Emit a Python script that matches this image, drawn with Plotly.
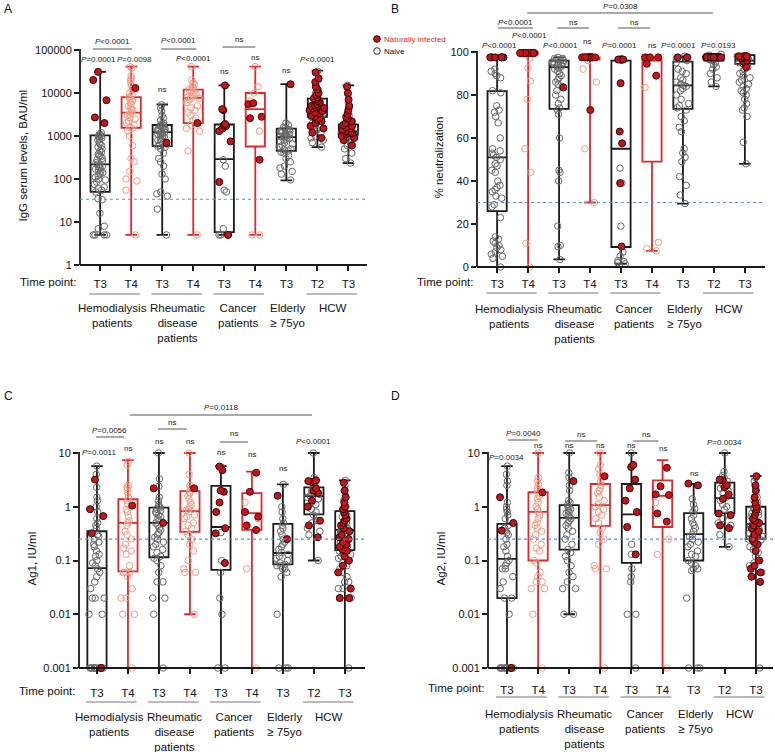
import math
import plotly.graph_objects as go

W, H = 775, 752

# ---- shared categories ----
groups = ["T3", "T4", "T3", "T4", "T3", "T4", "T3", "T2", "T3"]
group_red = [False, True, False, True, False, True, False, False, False]
cohorts = ["Hemodialysis<br>patients", "Rheumatic<br>disease<br>patients",
           "Cancer<br>patients", "Elderly<br>≥ 75yo", "HCW"]
cohort_pos = [0.4, 2.5, 4.45, 6.05, 7.5]
cohort_lines = [(0, 1), (2, 3), (4, 5), (7, 8)]

# ---- A: IgG serum levels (BAU/ml) ----
A_min = [5, 5, 5, 5, 5, 5, 93, 550, 235]
A_q1 = [50, 1550, 580, 2000, 5.8, 570, 450, 2800, 1080]
A_med = [220, 3500, 1230, 7700, 290, 4200, 940, 4600, 1250]
A_q3 = [1030, 8000, 1800, 12000, 1850, 10000, 1480, 7400, 1860]
A_max = [31000, 41000, 5400, 41000, 15000, 41000, 16000, 33000, 15000]
A_naive = [
    [1200, 1100, 1050, 1000, 980, 950, 900, 850, 800, 700, 650, 600, 550, 500, 450, 420, 380,
     350, 330, 300, 280, 260, 240, 220, 210, 200, 190, 180, 170, 160, 150, 140, 130, 120, 110,
     100, 95, 85, 75, 65, 60, 55, 50, 35, 33, 16, 8, 7, 5, 5, 5, 5],
    [41000, 38000, 25000, 22000, 20000, 17000, 15000, 12000, 10000, 9000, 8000, 7500, 7000,
     6500, 6000, 5500, 5000, 4500, 4200, 4000, 3500, 3200, 3000, 2700, 2500, 2200, 2000, 1800,
     1600, 1500, 1300, 1000, 600, 300, 250, 150, 100, 90, 55, 5],
    [5300, 4500, 3800, 3000, 2600, 2300, 2000, 1900, 1800, 1750, 1700, 1600, 1500, 1450, 1400,
     1350, 1300, 1250, 1230, 1200, 1150, 1100, 1050, 1000, 950, 900, 850, 800, 750, 650, 600,
     580, 550, 500, 400, 300, 250, 200, 130, 100, 50, 45, 40, 20, 5],
    [41000, 20000, 17000, 16000, 14000, 13000, 12000, 11000, 10000, 9500, 9000, 8500, 8000,
     7700, 7500, 7000, 6000, 5000, 4500, 4000, 3500, 3000, 2600, 2300, 2000, 1800, 1500, 1300,
     450, 5],
    [280, 200, 55, 50, 7, 5, 5, 5, 5],
    [41000, 14000, 10000, 6500, 1300, 5, 5],
    [2000, 1800, 1600, 1500, 1450, 1400, 1350, 1300, 1250, 1200, 1150, 1100, 1050, 1000, 980,
     950, 920, 900, 850, 800, 750, 700, 650, 600, 550, 500, 480, 450, 420, 400, 350, 300, 250,
     200, 180, 150, 130, 95],
    [32000, 20000, 15000, 12000, 10000, 9000, 8000, 7000, 6500, 6000, 5500, 5000, 4800, 4500,
     4200, 4000, 3800, 3500, 3200, 3000, 2800, 2600, 2400, 2200, 2000, 1800, 1600, 1400, 1200,
     1000, 900, 800, 700, 550],
    [15000, 9000, 6000, 4500, 3500, 3000, 2600, 2300, 2100, 2000, 1900, 1850, 1800, 1750, 1700,
     1650, 1600, 1550, 1500, 1450, 1400, 1350, 1300, 1280, 1250, 1220, 1200, 1180, 1150, 1120,
     1100, 1080, 1050, 1000, 950, 900, 850, 800, 700, 600, 500, 400, 300, 235],
]
A_infected = [
    [31000, 20000, 6800, 2700, 2000],
    [13000],
    [700],
    [2000],
    [15000, 4200, 4000, 1900, 1800, 1700, 1500, 1300, 750, 85, 5],
    [5800, 5500, 2800, 2600, 280],
    [16000],
    [30000, 22000, 18000, 14000, 12000, 10000, 9000, 8000, 7500, 7000, 6500, 6000, 5500, 5200,
     5000, 4700, 4500, 4300, 4000, 3800, 3500, 3300, 3000, 2800, 2600, 2400, 2200, 2000, 1700,
     1500, 1200, 900],
    [14000, 10000, 7000, 5000, 4000, 3200, 2800, 2500, 2200, 2000, 1800, 1700, 1600, 1500, 1400,
     1300, 1250, 1200, 1150, 1100, 1000, 900, 800, 600],
]
A_sig = ["<i>P</i>=0.0001", "<i>P</i>=0.0098", "ns", "<i>P</i>&lt;0.0001", "ns", "ns", "ns",
         "<i>P</i>&lt;0.0001", ""]
A_pairs = [(0, 1, "<i>P</i>&lt;0.0001"), (2, 3, "<i>P</i>&lt;0.0001"), (4, 5, "ns")]

# ---- B: % neutralization ----
B_min = [0, 0, 3.5, 30, 1.5, 7.5, 29.5, 84, 48]
B_q1 = [26, 99, 73.5, 96.5, 9.3, 49, 73.5, 96, 94.5]
B_med = [51, 99.5, 93, 97, 55, 96, 84.5, 97.5, 96]
B_q3 = [81.8, 99.8, 96, 97.5, 96, 96.5, 95.5, 98.5, 98.5]
B_max = [97.5, 100, 97.5, 98, 96.7, 97.5, 98, 99, 98.5]
B_naive = [
    [92, 91, 90, 89, 88, 82, 81, 75, 73, 72, 70, 67, 60, 55, 54, 53, 52, 51, 50, 48, 47, 45, 44,
     40, 38, 37, 36, 35, 33, 32, 29, 28, 23, 14, 13, 12, 11, 10, 9, 8, 7, 6, 5, 4, 0],
    [99.5, 99.5, 99, 97, 92.5, 86.5, 78, 55, 44, 11, 0],
    [97.5, 97, 97, 96.5, 96, 96, 95.5, 95, 95, 94.5, 94, 93.5, 93, 92.5, 92, 91, 90, 89, 88, 87,
     86, 85, 84, 82, 80, 78, 76, 74, 73, 71, 60, 45, 44, 40, 19, 10, 9.5, 3.5],
    [96, 92, 86, 55, 30],
    [46, 39, 19, 7, 5, 3, 2.5, 2, 1.5],
    [83.5, 11.5, 8.5, 7.5],
    [98, 97.5, 97, 96, 95, 92, 91, 90, 88, 87, 86, 85, 84.5, 84, 83, 82, 80, 78, 76, 75, 74, 73,
     70, 68, 65, 63, 55, 53, 51, 49, 42, 38, 33.5, 29.5],
    [99, 98.5, 98, 98, 97.5, 97, 96.5, 96, 95, 94, 93, 92, 90, 88, 86, 84],
    [98, 97.5, 97, 96.5, 96, 95.5, 95, 94.5, 94, 93, 92, 91, 90, 89, 88, 87, 86, 85, 84, 83, 82,
     81, 80, 78, 76, 74, 73, 70, 58, 48],
]
B_infected = [
    [97.5, 97.5, 97.5, 97.5, 97.5, 97.5],
    [99.5] * 14,
    [83.5],
    [97.5] * 14 + [73],
    [96.5, 96.5, 96.5, 96.5, 96.5, 96.5, 85.5, 63, 57.5, 39, 9.5],
    [97.5, 97.5, 97.5, 94.5, 89],
    [97.5, 97.5],
    [97.5] * 20,
    [98, 98, 98, 98, 98, 97.5, 97.5, 97, 96, 95.5, 93],
]
B_sig = ["<i>P</i>&lt;0.0001", "<i>P</i>&lt;0.0001", "<i>P</i>&lt;0.0001", "ns",
         "<i>P</i>=0.0001", "ns", "<i>P</i>=0.0001", "<i>P</i>=0.0193", ""]
B_pairs = [(0, 1, "<i>P</i>&lt;0.0001"), (2, 3, "ns"), (4, 5, "ns"), (1, 7, "<i>P</i>=0.0308")]

# ---- C: Ag1 (IU/ml) ----
C_min = [0.001, 0.001, 0.001, 0.01, 0.001, 0.001, 0.001, 0.1, 0.001]
C_q1 = [0.001, 0.063, 0.115, 0.34, 0.067, 0.37, 0.085, 0.72, 0.156]
C_med = [0.072, 0.5, 0.5, 0.83, 0.42, 0.76, 0.138, 1.58, 0.37]
C_q3 = [0.35, 1.38, 0.96, 1.95, 2.45, 1.8, 0.48, 2.3, 0.83]
C_max = [5.7, 7.4, 10, 10, 5.7, 4.5, 2.6, 10, 3.1]
C_naive = [
    [5.7, 4, 2.3, 1.5, 1.3, 1.0, 0.8, 0.6, 0.5, 0.45, 0.4, 0.3, 0.28, 0.25, 0.22, 0.2, 0.18,
     0.15, 0.13, 0.12, 0.1, 0.09, 0.08, 0.07, 0.06, 0.05, 0.04, 0.03, 0.02, 0.02, 0.02, 0.01,
     0.01] + [0.001] * 12,
    [7, 6, 2.5, 2.3, 2.1, 1.8, 1.5, 1.3, 1.1, 0.9, 0.8, 0.65, 0.55, 0.5, 0.45, 0.35, 0.3, 0.25,
     0.2, 0.17, 0.15, 0.13, 0.08, 0.06, 0.06, 0.06, 0.05, 0.03, 0.02, 0.02, 0.01, 0.01, 0.001],
    [10, 3.3, 2.4, 1.5, 1.3, 1.1, 1.0, 0.95, 0.9, 0.85, 0.8, 0.75, 0.7, 0.65, 0.6, 0.55, 0.5,
     0.45, 0.4, 0.37, 0.33, 0.3, 0.27, 0.25, 0.22, 0.2, 0.18, 0.16, 0.14, 0.12, 0.11, 0.1, 0.08,
     0.06, 0.04, 0.04, 0.02, 0.02, 0.01, 0.001],
    [10, 4, 2.5, 2.2, 1.9, 1.8, 1.6, 1.4, 1.2, 1.1, 1.0, 0.9, 0.85, 0.8, 0.7, 0.65, 0.6, 0.5,
     0.45, 0.4, 0.35, 0.3, 0.25, 0.2, 0.15, 0.1, 0.07, 0.06, 0.06, 0.01],
    [5.5, 0.33, 0.1, 0.06, 0.02, 0.01, 0.001, 0.001],
    [1.2, 0.6, 0.07, 0.001],
    [2.6, 1.0, 0.8, 0.6, 0.5, 0.45, 0.4, 0.35, 0.3, 0.25, 0.22, 0.2, 0.18, 0.16, 0.14, 0.13,
     0.12, 0.11, 0.1, 0.09, 0.085, 0.08, 0.08, 0.07, 0.07, 0.06, 0.05, 0.01, 0.001, 0.001, 0.001],
    [10, 3.5, 2.8, 2.5, 2.2, 2.0, 1.9, 1.7, 1.6, 1.5, 1.4, 1.2, 1.1, 1.0, 0.9, 0.8, 0.7, 0.55,
     0.5, 0.4, 0.35, 0.3, 0.1],
    [3.1, 2.5, 2, 1.6, 1.3, 1.1, 1.0, 0.9, 0.85, 0.8, 0.75, 0.7, 0.65, 0.6, 0.55, 0.5, 0.48,
     0.45, 0.42, 0.4, 0.38, 0.36, 0.34, 0.32, 0.3, 0.28, 0.26, 0.24, 0.22, 0.2, 0.19, 0.18, 0.17,
     0.16, 0.15, 0.14, 0.13, 0.12, 0.11, 0.1, 0.09, 0.08, 0.07, 0.06, 0.05, 0.04, 0.04, 0.03,
     0.03, 0.02, 0.02, 0.001],
]
C_infected = [
    [3.2, 0.9, 0.67, 0.32, 0.001],
    [1.05],
    [2.2, 0.5],
    [2.2],
    [5.6, 4.8, 2.0, 1.9, 1.2, 0.8, 0.4, 0.32, 0.09],
    [4.3, 1.9, 0.8, 0.65, 0.45, 0.37],
    [1.6, 0.25],
    [3.1, 3.0, 2.9, 2.2, 2.0, 1.8, 1.3, 1.0, 0.55, 0.45, 0.27],
    [2.8, 2.0, 1.5, 1.2, 1.0, 0.9, 0.8, 0.7, 0.6, 0.55, 0.5, 0.45, 0.4, 0.35, 0.3, 0.27, 0.25,
     0.22, 0.2, 0.18, 0.16, 0.15, 0.12, 0.1, 0.08, 0.06, 0.03, 0.02, 0.02],
]
C_sig = ["<i>P</i>=0.0011", "ns", "ns", "ns", "ns", "ns", "ns", "<i>P</i>&lt;0.0001", ""]
C_pairs = [(0, 1, "<i>P</i>=0.0056"), (2, 3, "ns"), (4, 5, "ns"), (1, 7, "<i>P</i>=0.0118")]

# ---- D: Ag2 (IU/ml) ----
D_min = [0.001, 0.001, 0.01, 0.001, 0.001, 0.001, 0.001, 0.18, 0.001]
D_q1 = [0.02, 0.1, 0.16, 0.44, 0.09, 0.42, 0.1, 0.76, 0.25]
D_med = [0.107, 0.8, 0.62, 1.07, 0.72, 1.6, 0.31, 1.45, 0.48]
D_q3 = [0.48, 1.86, 1.07, 2.65, 2.65, 3.1, 0.76, 2.8, 1.0]
D_max = [5.7, 10, 10, 10, 10, 7.4, 2.65, 10, 3.7]
D_naive = [
    [5.7, 4, 3, 2.5, 1.2, 1.0, 0.9, 0.8, 0.7, 0.6, 0.45, 0.4, 0.35, 0.33, 0.3, 0.25, 0.2, 0.18,
     0.15, 0.12, 0.1, 0.09, 0.08, 0.07, 0.07, 0.05, 0.04, 0.03, 0.02, 0.02, 0.01] + [0.001] * 10,
    [10, 3.5, 3, 2.6, 2.2, 2.0, 1.8, 1.6, 1.4, 1.2, 1.0, 0.9, 0.8, 0.7, 0.6, 0.5, 0.45, 0.4,
     0.35, 0.3, 0.25, 0.2, 0.17, 0.15, 0.1, 0.09, 0.06, 0.05, 0.04, 0.04, 0.03, 0.03, 0.01, 0.001],
    [10, 4.3, 3.5, 2.5, 2.0, 1.3, 1.2, 1.1, 1.0, 0.95, 0.9, 0.85, 0.8, 0.75, 0.7, 0.65, 0.6,
     0.55, 0.5, 0.45, 0.4, 0.35, 0.3, 0.25, 0.2, 0.16, 0.14, 0.12, 0.1, 0.08, 0.06, 0.05, 0.04,
     0.03, 0.03, 0.01, 0.01],
    [10, 6, 5, 4, 3, 2.5, 2.2, 2.0, 1.8, 1.5, 1.3, 1.1, 1.0, 0.9, 0.8, 0.7, 0.6, 0.5, 0.4, 0.33,
     0.25, 0.2, 0.08, 0.07, 0.07, 0.001],
    [10, 0.2, 0.13, 0.07, 0.05, 0.04, 0.01, 0.01, 0.001],
    [1.2, 0.25, 0.13, 0.001],
    [1.4, 1.1, 0.9, 0.8, 0.7, 0.6, 0.5, 0.45, 0.4, 0.35, 0.3, 0.28, 0.25, 0.22, 0.2, 0.18, 0.15,
     0.13, 0.12, 0.1, 0.09, 0.08, 0.07, 0.07, 0.065, 0.02, 0.001, 0.001, 0.001],
    [10, 4.5, 3.8, 3.5, 3.0, 2.6, 2.2, 2.0, 1.8, 1.5, 1.3, 1.1, 1.0, 0.9, 0.7, 0.6, 0.5, 0.45,
     0.3, 0.18],
    [3.5, 3, 2.5, 2, 1.5, 1.3, 1.2, 1.1, 1.0, 0.95, 0.9, 0.85, 0.8, 0.75, 0.7, 0.65, 0.6, 0.55,
     0.5, 0.48, 0.46, 0.44, 0.42, 0.4, 0.38, 0.36, 0.34, 0.32, 0.3, 0.28, 0.26, 0.25, 0.24, 0.22,
     0.2, 0.18, 0.16, 0.14, 0.12, 0.1, 0.09, 0.08, 0.06, 0.05, 0.001],
]
D_infected = [
    [1.5, 0.5, 0.36, 0.001],
    [1.85],
    [3.0],
    [3.7],
    [6, 5.5, 3.2, 2.2, 1.3, 0.8, 0.42, 0.13],
    [5.3, 2.4, 1.7, 1.65, 0.75, 0.53],
    [2.7, 2.5],
    [3.2, 3.1, 2.5, 2.3, 1.7, 1.4, 0.75, 0.7, 0.45, 0.4],
    [3.7, 2.5, 2.0, 1.5, 1.2, 1.0, 0.9, 0.8, 0.7, 0.6, 0.55, 0.5, 0.45, 0.4, 0.35, 0.3, 0.28,
     0.25, 0.22, 0.2, 0.15, 0.1, 0.08, 0.07, 0.06, 0.05, 0.04],
]
D_sig = ["<i>P</i>=0.0034", "ns", "ns", "ns", "ns", "ns", "ns", "<i>P</i>=0.0034", ""]
D_pairs = [(0, 1, "<i>P</i>=0.0040"), (2, 3, "ns"), (4, 5, "ns")]

# ---- styling ----
FONT = "Liberation Sans, Arial, sans-serif"
BLACK = "#1a1a1a"
RED = "#e3262b"
NAIVE_K = "#686868"
NAIVE_R = "#f29a84"
INF_FILL = "#c4141c"

panels = [
    dict(name="A", ax="", left=80, right=367, top=50, bot=265, log=True, lo=0, hi=5,
         xr=(-0.65, 8.6), ticks=[1, 10, 100, 1000, 10000, 100000],
         ticktext=["1", "10", "100", "1000", "10000", "100000"], thr=33.8,
         title="IgG serum levels, BAU/ml", title_x=23,
         stats=(A_min, A_q1, A_med, A_q3, A_max), naive=A_naive, inf=A_infected,
         sig=A_sig, sig_y=[60, 60, 90, 58, 72, 57, 70, 60, 0],
         sig_dx=[-0.05, 0.1, 0, 0, 0, 0, 0, 0, 0],
         pairs=A_pairs, pair_geo=[(-0.23, 1.03, 49, 41), (1.97, 3.1, 49, 40), (3.94, 5.0, 47, 39)],
         tp_dy=17, ul_dy=29, lab_dy=43),
    dict(name="B", ax="2", left=477, right=765, top=52, bot=267, log=False, lo=0, hi=100,
         xr=(-0.65, 8.65), ticks=[0, 20, 40, 60, 80, 100],
         ticktext=["0", "20", "40", "60", "80", "100"], thr=30,
         title="% neutralization", title_x=438,
         stats=(B_min, B_q1, B_med, B_q3, B_max), naive=B_naive, inf=B_infected,
         sig=B_sig, sig_y=[45, 35, 45, 42, 45, 45, 45, 45, 0],
         sig_dx=[0.08, 0.05, 0.05, -0.1, -0.06, 0, -0.15, 0.15, 0],
         pairs=B_pairs, pair_geo=[(0.03, 1.16, 28, 22), (1.94, 2.97, 28, 22), (3.9, 4.94, 28, 22),
                                  (0.97, 6.97, 13, 7)],
         tp_dy=15, ul_dy=26, lab_dy=42),
    dict(name="C", ax="3", left=79, right=365, top=453, bot=668, log=True, lo=-3, hi=1,
         xr=(-0.58, 8.65), ticks=[0.001, 0.01, 0.1, 1, 10],
         ticktext=["0.001", "0.01", "0.1", "1", "10"], thr=0.25,
         title="Ag1, IU/ml", title_x=31,
         stats=(C_min, C_q1, C_med, C_q3, C_max), naive=C_naive, inf=C_infected,
         sig=C_sig, sig_y=[452, 448, 441, 441, 452, 455, 468, 441, 0],
         sig_dx=[0.05, 0, 0, 0, 0, 0, 0, 0, 0],
         pairs=C_pairs, pair_geo=[(-0.03, 0.87, 437, 430), (1.97, 2.9, 429, 422),
                                  (3.97, 4.87, 442, 433), (1.06, 6.94, 415, 407)],
         tp_dy=23, ul_dy=34, lab_dy=49),
    dict(name="D", ax="4", left=488, right=773, top=453, bot=668, log=True, lo=-3, hi=1,
         xr=(-0.61, 8.55), ticks=[0.001, 0.01, 0.1, 1, 10],
         ticktext=["0.001", "0.01", "0.1", "1", "10"], thr=0.25,
         title="Ag2, IU/ml", title_x=440,
         stats=(D_min, D_q1, D_med, D_q3, D_max), naive=D_naive, inf=D_infected,
         sig=D_sig, sig_y=[457, 445, 445, 445, 445, 449, 473, 443, 0],
         sig_dx=[0, 0, 0, 0, 0, 0, 0, 0, 0],
         pairs=D_pairs, pair_geo=[(0.03, 1.0, 440, 433), (1.87, 2.9, 441, 434),
                                  (4.06, 4.87, 441, 434)],
         tp_dy=20, ul_dy=29, lab_dy=46),
]


def py(p):
    return 1 - p / H


def px(p):
    return p / W


def label(text, x, y, xref="paper", size=11.5, color="#111", **kw):
    d = dict(text=text, x=x, xref=xref, y=py(y), yref="paper", showarrow=False,
             xanchor="center", yanchor="middle", font=dict(family=FONT, size=size, color=color))
    d.update(kw)
    return d


fig = go.Figure()
shapes = []
annotations = []
layout_axes = {}
PAD = 5
BOXW = 0.62

for P in panels:
    xa, ya = "x" + P["ax"], "y" + P["ax"]
    span = P["hi"] - P["lo"]
    upp = span / (P["bot"] - P["top"])
    yrange = [P["lo"] - PAD * upp, P["hi"] + PAD * upp]

    mn, q1, med, q3, mx = P["stats"]
    for red in (False, True):
        idx = [i for i in range(9) if group_red[i] == red]
        fig.add_trace(go.Box(
            x=idx, q1=[q1[i] for i in idx], median=[med[i] for i in idx],
            q3=[q3[i] for i in idx], lowerfence=[mn[i] for i in idx],
            upperfence=[mx[i] for i in idx], width=BOXW, whiskerwidth=0.6,
            line=dict(color=RED if red else BLACK, width=1.8),
            fillcolor="rgba(0,0,0,0)", boxpoints=False, showlegend=False,
            xaxis=xa, yaxis=ya, hoverinfo="skip"))

    for i in range(9):
        red = group_red[i]
        for vals, infected in ((P["naive"][i], False), (P["inf"][i], True)):
            if not vals:
                continue
            if infected:
                mk = dict(size=7, color=INF_FILL,
                          line=dict(color="#5a0000" if red else "#2b0505", width=1))
            else:
                mk = dict(size=6.5, color="rgba(0,0,0,0)",
                          line=dict(color=NAIVE_R if red else NAIVE_K, width=1))
            fig.add_trace(go.Box(
                x=[i] * len(vals), y=vals, boxpoints="all", jitter=0.85, pointpos=0,
                width=BOXW, marker=mk, line=dict(color="rgba(0,0,0,0)", width=0),
                fillcolor="rgba(0,0,0,0)", showlegend=False, xaxis=xa, yaxis=ya,
                hoverinfo="skip"))

    layout_axes["xaxis" + P["ax"]] = dict(
        domain=[px(P["left"]), px(P["right"])], range=list(P["xr"]), anchor="free",
        position=py(P["bot"]), showline=True, linecolor=BLACK, linewidth=1.8,
        ticks="outside", ticklen=5, tickwidth=1.5, tickcolor=BLACK, automargin=False,
        tickvals=list(range(9)), ticktext=groups, showgrid=False, zeroline=False,
        tickfont=dict(family=FONT, size=11.5, color="#111"), fixedrange=True,
        ticklabelstandoff=P["tp_dy"] - 14)
    layout_axes["yaxis" + P["ax"]] = dict(
        domain=[py(P["bot"] + PAD), py(P["top"] - PAD)], anchor=xa, automargin=False,
        type="log" if P["log"] else "linear", range=yrange, showline=False,
        ticks="outside", ticklen=5, tickwidth=1.5, tickcolor=BLACK, fixedrange=True,
        tickvals=P["ticks"], ticktext=P["ticktext"], showgrid=False, zeroline=False,
        tickfont=dict(family=FONT, size=11, color="#111"))

    # y axis line, drawn only over the value range
    shapes.append(dict(type="line", xref="paper", yref="paper", x0=px(P["left"]),
                       x1=px(P["left"]), y0=py(P["bot"]), y1=py(P["top"] - 1),
                       line=dict(color=BLACK, width=1.8)))

    # threshold line
    tv = math.log10(P["thr"]) if P["log"] else P["thr"]
    tpix = P["top"] + (P["hi"] - tv) / span * (P["bot"] - P["top"])
    shapes.append(dict(type="line", xref="paper", yref="paper", x0=px(P["left"]),
                       x1=px(P["right"]), y0=py(tpix), y1=py(tpix),
                       line=dict(color="#5b8fd6", width=1.2, dash="dot")))

    # significance labels above boxes
    for i, s in enumerate(P["sig"]):
        if s:
            annotations.append(label(s, i + P["sig_dx"][i], P["sig_y"][i], xref=xa, size=8,
                                     color="#222"))
    # brackets
    for (a, b, txt), (x0, x1, ly, ty) in zip(P["pairs"], P["pair_geo"]):
        shapes.append(dict(type="line", xref=xa, yref="paper", x0=x0, x1=x1, y0=py(ly),
                           y1=py(ly), line=dict(color="#555", width=1)))
        annotations.append(label(txt, (x0 + x1) / 2, ty, xref=xa, size=8, color="#222"))

    # time point label
    annotations.append(label("Time point:", px(P["left"] - 2), P["bot"] + P["tp_dy"],
                             xanchor="right"))
    # cohort underlines and names
    for a, b in cohort_lines:
        shapes.append(dict(type="line", xref=xa, yref="paper", x0=a - 0.35, x1=b + 0.28,
                           y0=py(P["bot"] + P["ul_dy"]), y1=py(P["bot"] + P["ul_dy"]),
                           line=dict(color="#777", width=1)))
    for c, cp in zip(cohorts, cohort_pos):
        annotations.append(label(c, cp, P["bot"] + P["lab_dy"] - 8, xref=xa, yanchor="top"))
    # y title
    annotations.append(label(P["title"], px(P["title_x"]), (P["top"] + P["bot"]) / 2 - 2,
                             textangle=-90))

# panel letters
for letter, lx, ly in (("A", 8, 9), ("B", 395, 9), ("C", 8, 396), ("D", 395, 396)):
    annotations.append(label(letter, px(lx), ly, size=12))

# legend (drawn by hand)
for cy, fill, edge, txt, tcol in ((39, INF_FILL, "#2b0505", "Naturally infected", RED),
                                  (51, "white", "#333", "Naive", "#111")):
    shapes.append(dict(type="circle", xref="paper", yref="paper", xsizemode="pixel",
                       ysizemode="pixel", xanchor=px(377), yanchor=py(cy), x0=-3.3, x1=3.3,
                       y0=-3.3, y1=3.3, fillcolor=fill, line=dict(color=edge, width=1)))
    annotations.append(label(txt, px(382), cy, size=8, color=tcol, xanchor="left"))

fig.update_layout(
    width=W, height=H, margin=dict(l=0, r=0, t=0, b=0, autoexpand=False),
    paper_bgcolor="white", plot_bgcolor="rgba(0,0,0,0)", boxmode="overlay", showlegend=False,
    shapes=shapes, annotations=annotations, **layout_axes)

fig.write_html("out.html", config={"displayModeBar": False},
               post_script="document.body.style.margin='0px';document.body.style.overflow='hidden';")
